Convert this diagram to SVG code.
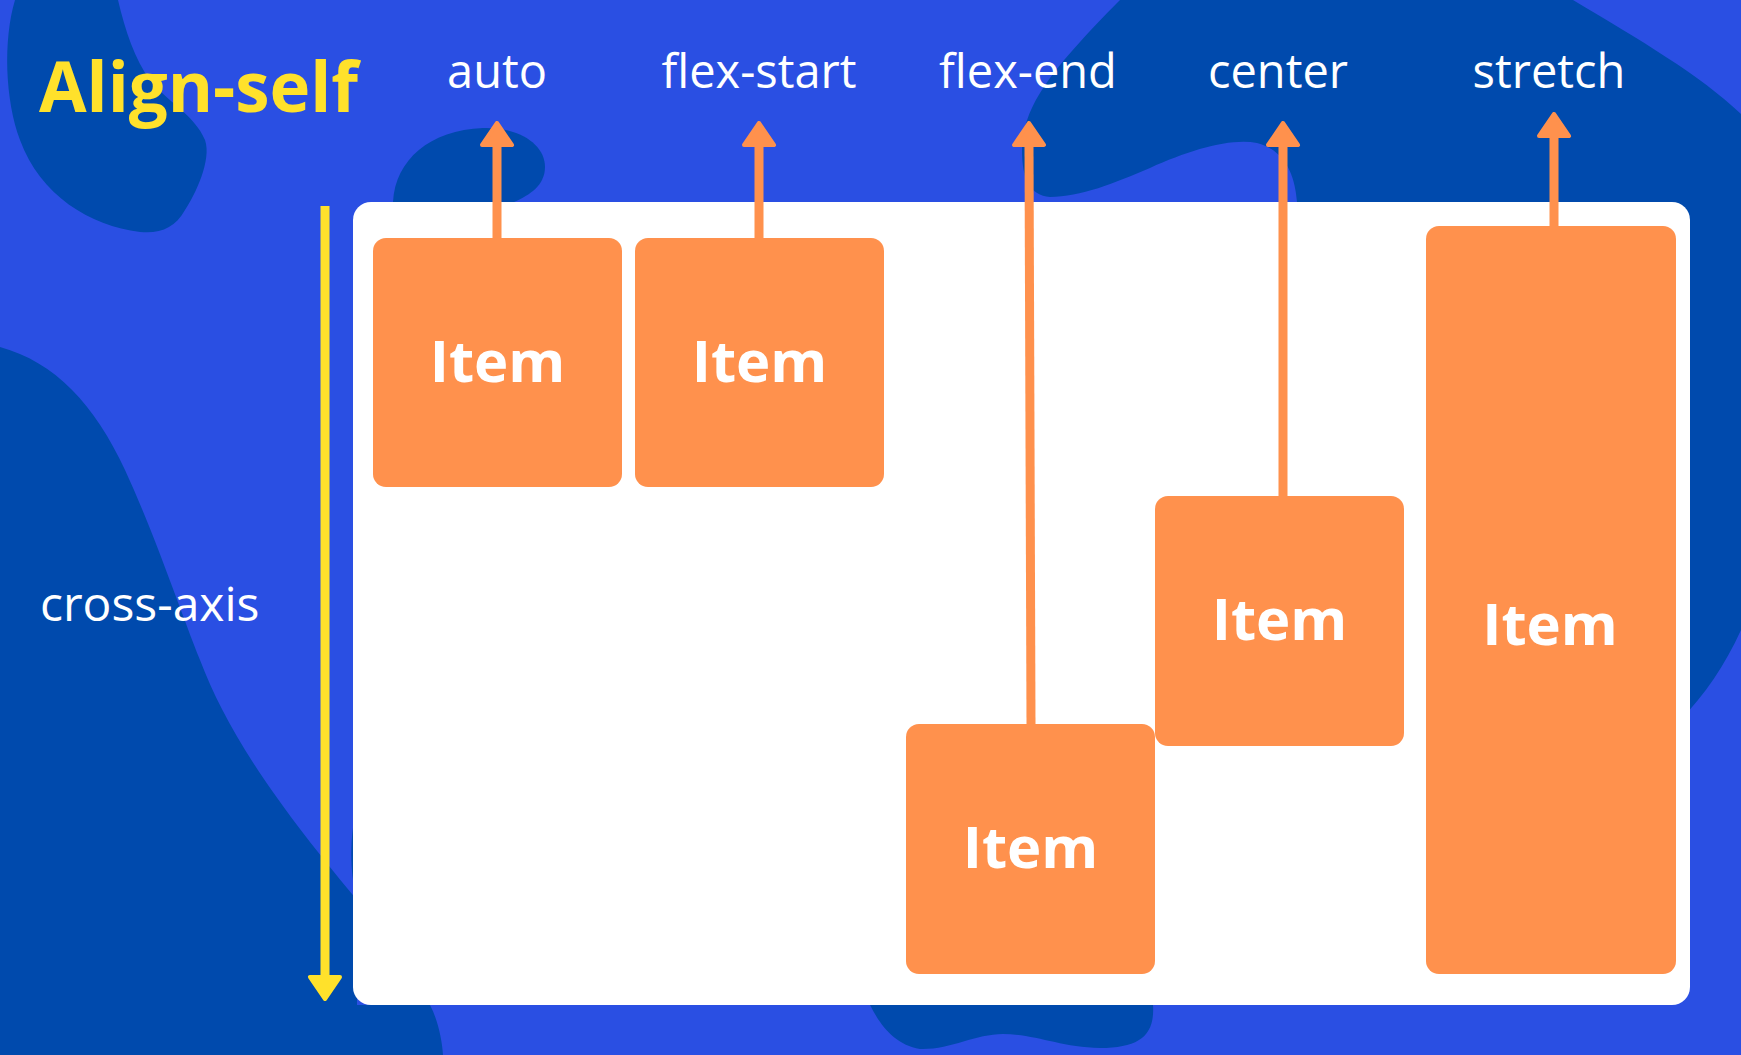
<svg xmlns="http://www.w3.org/2000/svg" width="1741" height="1055" viewBox="0 0 1741 1055">
  <defs>
    <style>
      .bg { fill: #2A4FE3; }
      .blob { fill: #004AAD; }
      .panel { fill: #FFFFFF; }
      .item { fill: #FF914D; }
      .itemtxt { font-family: "Open Sans", "Liberation Sans", sans-serif; font-weight: 700; font-size: 58px; fill: #FFFFFF; text-anchor: middle; }
      .label { font-family: "Open Sans", "Liberation Sans", sans-serif; font-weight: 400; font-size: 47px; fill: #FFFFFF; }
      .title { font-family: "Open Sans", "Liberation Sans", sans-serif; font-weight: 700; font-size: 69px; fill: #FFE12B; }
      .conn { stroke: #FF914D; stroke-width: 9; fill: none; }
      .axis { stroke: #FFE12B; stroke-width: 9; fill: none; }
    </style>
    <marker id="headO" viewBox="0 0 26 36" refX="0" refY="18" markerWidth="26" markerHeight="36" markerUnits="userSpaceOnUse" orient="auto">
      <path d="M2,3 L24,18 L2,33 Z" fill="#FF914D" stroke="#FF914D" stroke-width="4" stroke-linejoin="round"/>
    </marker>
    <marker id="headY" viewBox="0 0 26 36" refX="0" refY="18" markerWidth="26" markerHeight="36" markerUnits="userSpaceOnUse" orient="auto">
      <path d="M2,3 L24,18 L2,33 Z" fill="#FFE12B" stroke="#FFE12B" stroke-width="4" stroke-linejoin="round"/>
    </marker>
  </defs>

  <g id="background">
    <rect class="bg" x="0" y="0" width="1741" height="1055"/>
    <path class="blob" d="M15,0 L118,0 C125,30 135,60 150,80 C165,100 195,115 205,140 C212,160 195,195 185,210 C175,228 160,234 140,232 C90,226 40,195 20,140 C5,100 3,40 15,0 Z"/>
    <path class="blob" d="M393,202 C395,160 430,130 483,128 C520,127 545,145 545,167 C545,185 530,195 514,202 Z"/>
    <path class="blob" d="M1120,0 L1573,0 C1640,40 1700,75 1741,114 L1741,630 C1725,665 1705,695 1680,720 L1300,720 L1297,202 C1295,175 1285,150 1257,143 C1230,138 1190,150 1150,168 C1115,183 1080,197 1050,197 C1030,195 1022,180 1022,150 C1022,110 1050,75 1080,42 C1095,25 1110,10 1120,0 Z"/>
    <path class="blob" d="M0,347 C55,362 95,405 125,470 C155,535 180,610 200,660 C225,725 265,790 357,900 L357,1005 L430,1005 C438,1020 442,1040 443,1055 L0,1055 Z"/>
    <path class="blob" d="M870,1005 C880,1025 895,1045 920,1049 C950,1050 975,1034 1003,1034 C1035,1034 1060,1047 1100,1048 C1140,1048 1155,1035 1153,1005 Z"/>
    <path class="blob" d="M358,808 C349,830 349,878 358,900 Z"/>
  </g>

  <g id="title">
    <text class="title" x="39" y="112">Align-self</text>
  </g>

  <g id="labels">
    <text class="label" x="497" y="88" text-anchor="middle">auto</text>
    <text class="label" x="759" y="88" text-anchor="middle">flex-start</text>
    <text class="label" x="1028" y="88" text-anchor="middle">flex-end</text>
    <text class="label" x="1278" y="88" text-anchor="middle">center</text>
    <text class="label" x="1549" y="88" text-anchor="middle">stretch</text>
    <text class="label" x="40" y="621" style="font-size:48px">cross-axis</text>
  </g>

  <g id="container">
    <rect class="panel" x="353" y="202" width="1337" height="803" rx="18" ry="18"/>
  </g>

  <g id="item-auto">
    <rect class="item" x="373" y="238" width="249" height="249" rx="13" ry="13"/>
    <text class="itemtxt" x="497.5" y="382">Item</text>
  </g>
  <g id="item-flex-start">
    <rect class="item" x="635" y="238" width="249" height="249" rx="13" ry="13"/>
    <text class="itemtxt" x="759.5" y="382">Item</text>
  </g>
  <g id="item-flex-end">
    <rect class="item" x="906" y="724" width="249" height="250" rx="13" ry="13"/>
    <text class="itemtxt" x="1030.5" y="868">Item</text>
  </g>
  <g id="item-center">
    <rect class="item" x="1155" y="496" width="249" height="250" rx="13" ry="13"/>
    <text class="itemtxt" x="1279.5" y="640">Item</text>
  </g>
  <g id="item-stretch">
    <rect class="item" x="1426" y="226" width="250" height="748" rx="13" ry="13"/>
    <text class="itemtxt" x="1550" y="645">Item</text>
  </g>

  <g id="connectors">
    <path class="conn" d="M497,239 L497,147" marker-end="url(#headO)"/>
    <path class="conn" d="M759,239 L759,147" marker-end="url(#headO)"/>
    <path class="conn" d="M1031,725 L1029,147" marker-end="url(#headO)"/>
    <path class="conn" d="M1283,497 L1283,147" marker-end="url(#headO)"/>
    <path class="conn" d="M1554,227 L1554,138" marker-end="url(#headO)"/>
    <path class="axis" d="M325,206 L325,975" marker-end="url(#headY)"/>
  </g>
</svg>
